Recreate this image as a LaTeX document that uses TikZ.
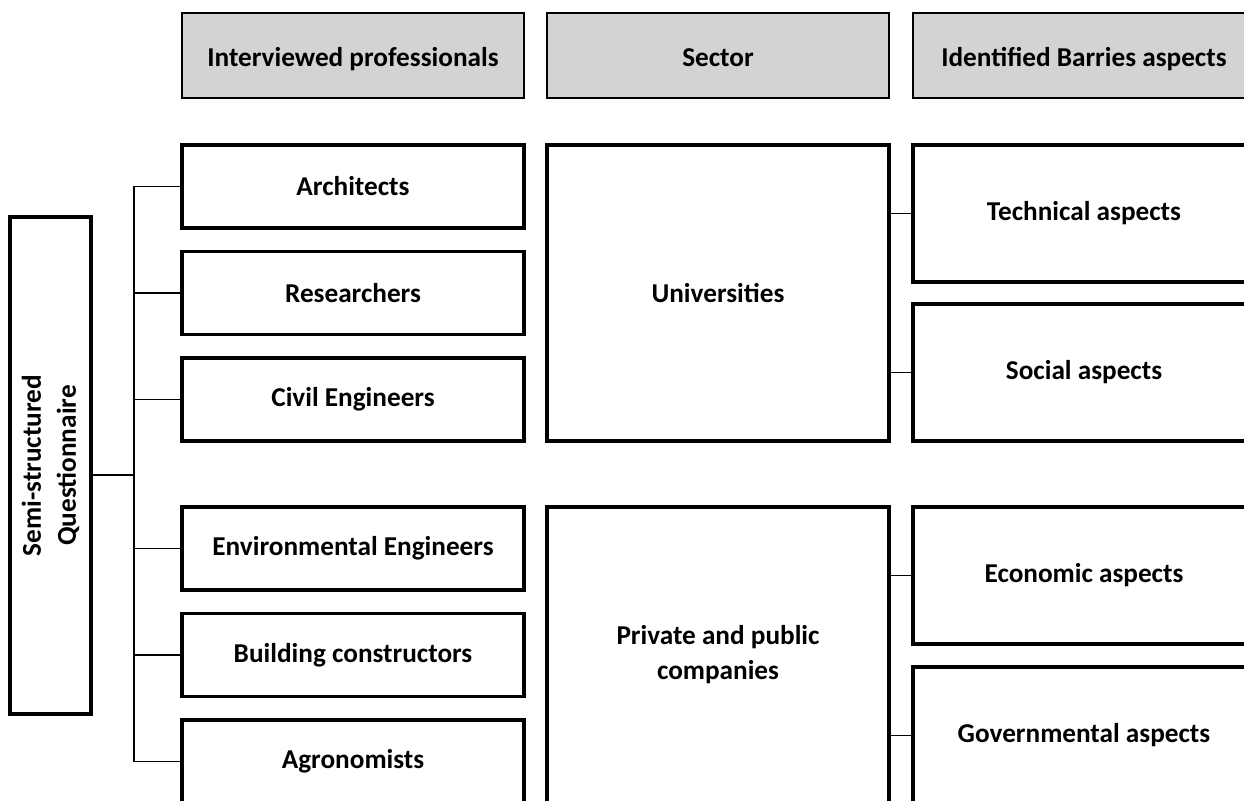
\documentclass[tikz,border=0pt]{standalone}
\usepackage{fontspec}
\setmainfont{Carlito}
\usetikzlibrary{positioning}
\definecolor{headgray}{RGB}{211,211,211}

\begin{document}
\begin{tikzpicture}[on grid, node distance = 2.13cm,
    box/.style = {draw, line width = 1.9pt, minimum width = 6.84cm,
      minimum height = 1.66cm, align = center,
      font = \fontsize{15.5}{20}\selectfont\bfseries},
    head/.style = {box, fill = headgray, line width = 1.1pt, minimum height = 1.7cm,
      text height = 16pt, text depth = 4pt},
    tall/.style = {box, minimum height = 5.92cm},
    aspect/.style = {box, minimum height = 2.74cm},
    link/.style = {line width = 1.1pt}]
  \useasboundingbox (0,0) rectangle (24.88,-16.02);
  \node[head] (h1) at (7.06,-1.11) {Interviewed professionals};
  \node[head] (h2) [right=7.3cm of h1] {Sector};
  \node[head] (h3) [right=7.32cm of h2] {Identified Barries aspects};
  \node[box] (arch) at (7.06,-3.73) {Architects};
  \node[box] (res) [below=of arch] {Researchers};
  \node[box] (civ) [below=of res] {Civil Engineers};
  \node[box] (env) [below=2.98cm of civ] {Environmental Engineers};
  \node[box] (build) [below=of env] {Building constructors};
  \node[box] (agro) [below=of build] {Agronomists};
  \node[tall] (univ) [right=7.3cm of res] {Universities};
  \node[tall] (comp) [right=7.3cm of build] {Private and public\\companies};
  \node[aspect] (tech) at (21.68,-4.27) {Technical aspects};
  \node[aspect] (soc) [below=3.18cm of tech] {Social aspects};
  \node[aspect] (eco) at (21.68,-11.51) {Economic aspects};
  \node[aspect] (gov) [below=3.2cm of eco] {Governmental aspects};
  \node[box, rotate=90, minimum width=9.94cm, minimum height=1.62cm] (quest)
    at (1.01,-9.31) {Semi-structured\\Questionnaire};
  \coordinate (join) at (2.68,-9.5);
  \draw[link] (arch.west) -| (join |- agro.west) -- (agro.west);
  \foreach \n in {res, civ, env, build}
    \draw[link] (\n.west) -- (join |- \n.west);
  \draw[link] (join) -- (join -| quest.south);
  \foreach \n in {tech, soc}
    \draw[link] (\n.west) -- (\n.west -| univ.east);
  \foreach \n in {eco, gov}
    \draw[link] (\n.west) -- (\n.west -| comp.east);
\end{tikzpicture}
\end{document}
